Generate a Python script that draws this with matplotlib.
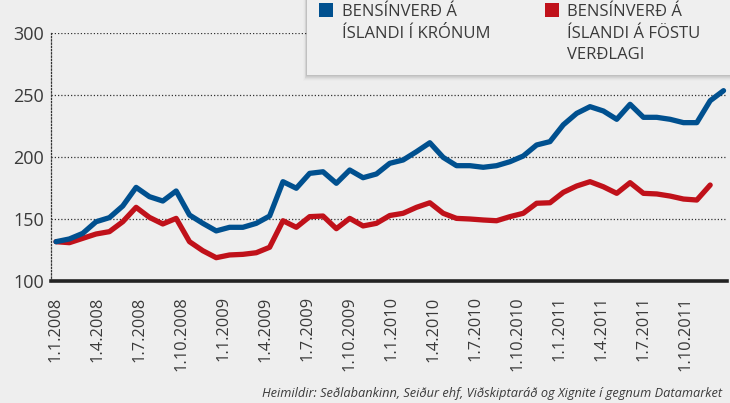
import matplotlib
matplotlib.use("Agg")
import matplotlib.pyplot as plt
from matplotlib.patches import Rectangle

# ---- data ----
blue_kronur = [131.7, 133.9, 138.4, 147.8, 151.1, 160.5, 175.5, 168.0, 164.5, 172.6,
               153.2, 146.5, 140.4, 143.3, 143.3, 146.5, 152.4, 180.1, 174.8, 186.8,
               188.1, 178.8, 189.5, 183.3, 186.3, 194.9, 197.6, 204.3, 211.5, 199.7,
               193.0, 193.0, 191.7, 193.0, 196.2, 200.8, 209.7, 212.4, 226.0, 235.2,
               240.6, 237.1, 230.4, 242.5, 232.0, 232.0, 230.4, 227.7, 227.7, 245.4,
               253.5]
red_fast = [131.7, 130.9, 134.4, 137.9, 139.8, 147.8, 159.4, 151.3, 146.0, 150.5,
            131.7, 124.4, 118.8, 121.0, 121.5, 122.8, 127.2, 148.6, 143.3, 151.9,
            152.4, 142.2, 150.5, 144.4, 146.5, 152.8, 154.6, 159.4, 163.1, 154.6,
            150.5, 150.0, 149.2, 148.6, 151.9, 154.6, 162.7, 163.1, 171.5, 176.6,
            180.1, 176.0, 170.7, 179.3, 170.7, 170.2, 168.5, 166.1, 165.3, 177.4]
tick_labels = ["1.1.2008", "1.4.2008", "1.7.2008", "1.10.2008",
               "1.1.2009", "1.4.2009", "1.7.2009", "1.10.2009",
               "1.1.2010", "1.4.2010", "1.7.2010", "1.10.2010",
               "1.1.2011", "1.4.2011", "1.7.2011", "1.10.2011"]
y_ticks = [100, 150, 200, 250, 300]
legend_labels = ["BENSÍNVERÐ Á\nÍSLANDI Í KRÓNUM", "BENSÍNVERÐ Á\nÍSLANDI Á FÖSTU\nVERÐLAGI"]
source = "Heimildir: Seðlabankinn, Seiður ehf, Viðskiptaráð og Xignite í gegnum Datamarket"

BLUE = "#00508f"
RED = "#c0111a"
BG = "#eeeeee"
TXT = "#3a3a3a"

plt.rcParams['font.family'] = ['Open Sans', 'DejaVu Sans']

W, H = 730, 403
fig = plt.figure(figsize=(W / 100, H / 100), dpi=100, facecolor=BG)
ax = fig.add_axes([51 / W, 1 - 281 / H, (727 - 51) / W, (281 - 33) / H])
ax.set_facecolor("none")

xb = list(range(len(blue_kronur)))
xr = list(range(len(red_fast)))
ax.plot(xr, red_fast, color=RED, lw=3.8, solid_joinstyle="round",
        solid_capstyle="round", zorder=3)
ax.plot(xb, blue_kronur, color=BLUE, lw=3.8, solid_joinstyle="round",
        solid_capstyle="round", zorder=4)

ax.set_xlim(-0.375, 50.26)
ax.set_ylim(100, 300)
ax.set_yticks(y_ticks)
ax.set_yticklabels([str(v) for v in y_ticks])
step = 3.146
ax.set_xticks([-0.07 + k * step for k in range(len(tick_labels))])
ax.set_xticklabels(tick_labels, rotation=90, va="top", ha="center")

ax.yaxis.grid(True, linestyle=(0, (1, 1.6)), color="#333333", lw=0.9)
ax.xaxis.grid(False)
ax.set_axisbelow(True)
for s in ["top", "right"]:
    ax.spines[s].set_visible(False)
ax.spines["left"].set_linestyle((0, (1, 1.6)))
ax.spines["left"].set_color("#333333")
ax.spines["left"].set_linewidth(0.9)
ax.spines["bottom"].set_color("#222222")
ax.spines["bottom"].set_linewidth(2.6)
ax.spines["bottom"].set_zorder(5)

ax.tick_params(axis="y", length=0, pad=5, labelsize=13, labelcolor=TXT)
ax.tick_params(axis="x", length=0, pad=11, labelsize=11.8, labelcolor=TXT)

# ---- legend box with soft shadow ----
bx0, by0, bx1, by1 = 307, 0, 735, 75
for i, a in enumerate([0.05, 0.045, 0.04, 0.03, 0.02, 0.01]):
    off = i + 1
    fig.patches.append(Rectangle(((bx0 - off * 0.6) / W, 1 - (by1 + off) / H),
                                 (bx1 - bx0 + off) / W, (by1 - by0 + off) / H,
                                 transform=fig.transFigure, facecolor="black",
                                 alpha=a, edgecolor="none", zorder=6))
fig.patches.append(Rectangle((bx0 / W, 1 - by1 / H), (bx1 - bx0) / W, (by1 - by0) / H,
                             transform=fig.transFigure, facecolor="#efefef",
                             edgecolor="none", zorder=7))
for (sx, tx, col, lab) in [(319, 342, BLUE, legend_labels[0]), (545, 567, RED, legend_labels[1])]:
    fig.patches.append(Rectangle((sx / W, 1 - 17 / H), 14 / W, 14 / H,
                                 transform=fig.transFigure, facecolor=col,
                                 edgecolor="none", zorder=8))
    fig.text(tx / W, 1 - 4.5 / H, lab, ha="left", va="top", fontsize=12,
             color=TXT, linespacing=1.45, zorder=9)

fig.text(722 / W, 1 - 393 / H, source, ha="right", va="center", fontsize=9.2,
         style="italic", color=TXT, family=['Open Sans', 'DejaVu Sans'])

fig.savefig("out.png", dpi=100, facecolor=BG)
